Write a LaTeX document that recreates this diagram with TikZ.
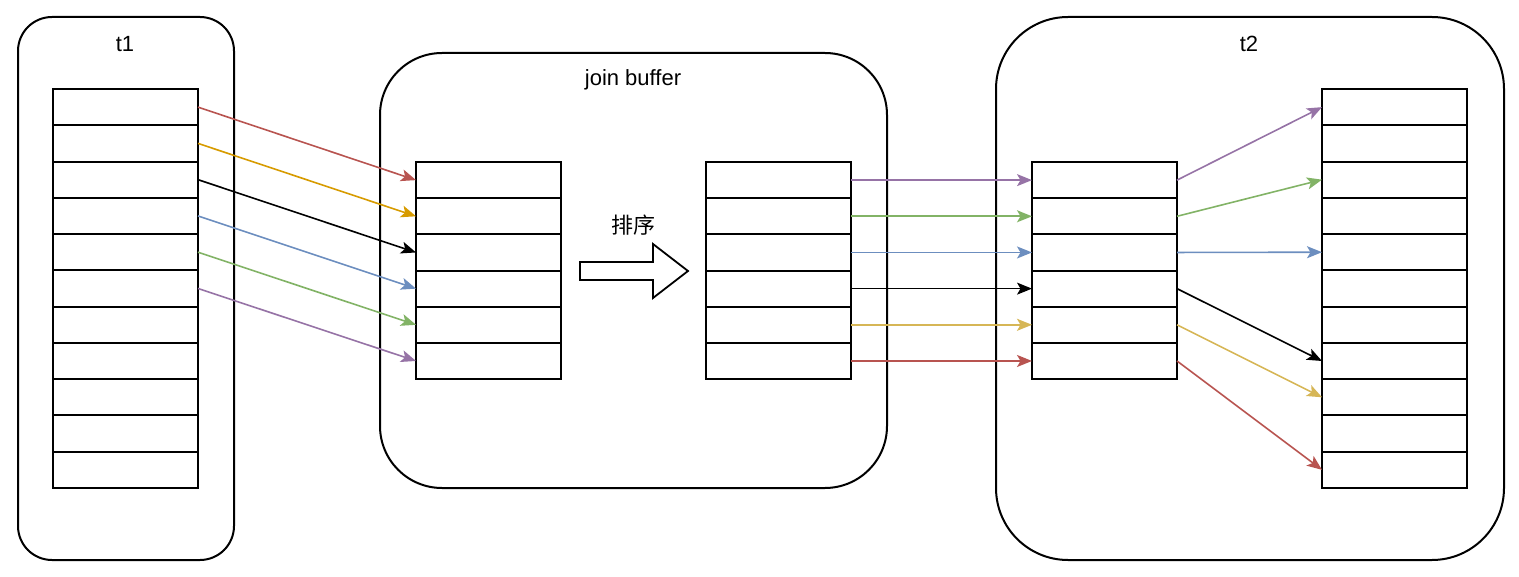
\documentclass[tikz,border=0pt]{standalone}
\usepackage{fontspec}
\setmainfont{Liberation Sans}
\newfontfamily\cjk{Noto Sans CJK SC}
\usetikzlibrary{arrows.meta}
\definecolor{cred}{HTML}{B85450}
\definecolor{corange}{HTML}{D79B00}
\definecolor{cblue}{HTML}{6C8EBF}
\definecolor{cgreen}{HTML}{82B366}
\definecolor{cpurple}{HTML}{9673A6}
\definecolor{cyellow}{HTML}{D6B656}
\tikzset{
  x=1pt,y=-1pt,
  container/.style={draw,line width=2pt,rounded corners=#1},
  cell/.style={draw,line width=2pt,minimum width=145pt,minimum height=36.25pt,inner sep=0pt,outer sep=0pt,anchor=north west},
  conn/.style={line width=1.6pt,-{Stealth[length=15pt,width=12pt,inset=3.5pt]}},
  lbl/.style={font=\fontsize{22pt}{24pt}\selectfont,inner sep=0pt}
}
\begin{document}
\begin{tikzpicture}
\useasboundingbox (0,0) rectangle (1519,577);
% containers
\draw[container=34pt] (18,17) rectangle (234,560);
\node[lbl] (lt1) at (125,44) {t1};
\draw[container=62pt] (380,53) rectangle (887,488);
\node[lbl] (ljb) at (633,80) {join buffer};
\draw[container=72pt] (996,17) rectangle (1504,560);
\node[lbl] (lt2) at (1249,44) {t2};
% tables
\foreach \i in {1,...,11} {
  \node[cell] (a\i) at (53,{89+(\i-1)*36.27}) {};
  \node[cell] (d\i) at (1322,{89+(\i-1)*36.27}) {};
}
\foreach \i in {1,...,6} {
  \node[cell] (b\i) at (416,{162+(\i-1)*36.17}) {};
  \node[cell] (c\i) at (706,{162+(\i-1)*36.17}) {};
  \node[cell] (e\i) at (1032,{162+(\i-1)*36.17}) {};
}
% sort arrow
\draw[line width=1.8pt,fill=white] (580,262) -- (653,262) -- (653,244) -- (688,271) -- (653,298) -- (653,280) -- (580,280) -- cycle;
\node[lbl,font=\cjk\fontsize{22pt}{24pt}\selectfont] (lsort) at (633,225) {排序};
% t1 -> buffer
\draw[conn,cred] (a1.east) -- (b1.west);
\draw[conn,corange] (a2.east) -- (b2.west);
\draw[conn,black] (a3.east) -- (b3.west);
\draw[conn,cblue] (a4.east) -- (b4.west);
\draw[conn,cgreen] (a5.east) -- (b5.west);
\draw[conn,cpurple] (a6.east) -- (b6.west);
% buffer -> t2 left
\draw[conn,cpurple] (c1.east) -- (e1.west);
\draw[conn,cgreen] (c2.east) -- (e2.west);
\draw[conn,cblue] (c3.east) -- (e3.west);
\draw[conn,black] (c4.east) -- (e4.west);
\draw[conn,cyellow] (c5.east) -- (e5.west);
\draw[conn,cred] (c6.east) -- (e6.west);
% t2 left -> t2 right
\draw[conn,cpurple] (e1.east) -- (d1.west);
\draw[conn,cgreen] (e2.east) -- (d3.west);
\draw[conn,cblue] (e3.east) -- (d5.west);
\draw[conn,black] (e4.east) -- (d8.west);
\draw[conn,cyellow] (e5.east) -- (d9.west);
\draw[conn,cred] (e6.east) -- (d11.west);
\end{tikzpicture}
\end{document}
